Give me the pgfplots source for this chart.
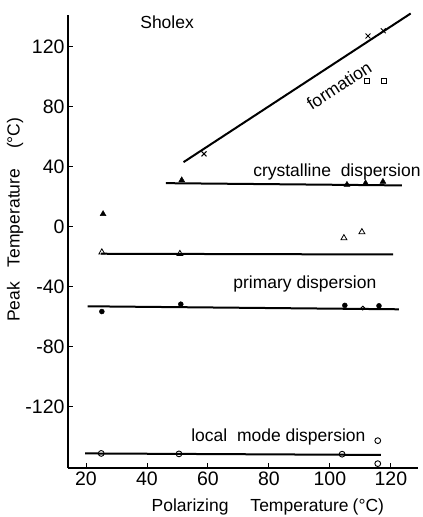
\documentclass[border=0pt]{standalone}
\usepackage{pgfplots}
\pgfplotsset{compat=1.18}
\usepackage{fontspec}
\setmainfont{Liberation Sans}
\begin{document}
\begin{tikzpicture}[x=1pt,y=1pt]
\path[use as bounding box] (0,0) rectangle (423,517);
\begin{axis}[
  at={(68pt,49pt)}, anchor=south west,
  scale only axis, width=350pt, height=453pt,
  xmin=14.1, xmax=128.9, ymin=-160.7, ymax=141,
  axis lines=left, axis line style={-, line width=1.5pt},
  xtick={20,40,...,120}, ytick={-120,-80,...,120},
  tick align=inside, major tick length=5pt,
  tick style={line width=0.9pt, black},
  clip=false,
  font=\fontsize{17.5}{20}\selectfont,
  /pgf/number format/assume math mode=true,
  ticklabel style={font=\fontsize{19.5}{22}\selectfont},
  xlabel={Polarizing\hspace{22pt}Temperature\hspace{4pt}(°C)},
  ylabel={Peak\hspace{15pt}Temperature\hspace{20pt}(°C)},
  xlabel style={at={(axis description cs:0.571,-0.086)}, anchor=center},
  ylabel style={at={(axis description cs:-0.151,0.548)}, anchor=center, rotate=0},
]
% formation
\addplot[black, line width=2pt] coordinates {(52,43) (126.5,142)};
\addplot[only marks, mark=x, mark size=3.5pt, mark options={line width=1pt}] coordinates {(58.7,48.5) (112.5,127) (117.5,130.5)};
\addplot[only marks, mark=square, mark size=2.4pt, mark options={line width=0.9pt, fill=white}] coordinates {(112.2,97.3) (117.7,97)};
% crystalline
\addplot[black, line width=2pt] coordinates {(46.2,29) (123.6,27.5)};
\addplot[only marks, mark=triangle*, mark size=3.4pt] coordinates {(51.4,31) (105.6,28) (111.7,29) (117.4,30) (25.6,8.5)};
% open triangles
\addplot[black, line width=2pt] coordinates {(25,-18) (120.7,-18.5)};
\addplot[only marks, mark=triangle, mark size=3.4pt, mark options={fill=white, line width=0.8pt}] coordinates {(25.2,-17) (50.8,-18) (104.6,-7.5) (110.5,-3.5)};
% primary
\addplot[black, line width=2pt] coordinates {(20.5,-53) (122.6,-55)};
\addplot[only marks, mark=*, mark size=2.5pt] coordinates {(25.2,-56.5) (51.1,-51.6) (104.9,-52.4) (116.1,-52.7)};
\addplot[only marks, mark=o, mark size=1.9pt, mark options={fill=white, line width=0.9pt}] coordinates {(110.8,-54.2)};
% local mode
\addplot[black, line width=2pt] coordinates {(19.7,-151) (116.7,-152)};
\addplot[only marks, mark=o, mark size=2.9pt, mark options={fill=white, line width=0.9pt}] coordinates {(25,-151) (50.5,-151.3) (104,-151.5) (115.7,-142.5) (115.7,-157.8)};
% labels
\node[anchor=center] at (axis cs:46.6,136) {Sholex};
\node[anchor=center, rotate=33, inner sep=0pt] at (axis cs:103,94) {formation};
\node[anchor=base] at (axis cs:102.3,33.5) {crystalline\ \ dispersion};
\node[anchor=base] at (axis cs:91.8,-40.9) {primary dispersion};
\node[anchor=base] at (axis cs:83.1,-143.1) {local\ \ mode dispersion};
\end{axis}
\end{tikzpicture}
\end{document}
